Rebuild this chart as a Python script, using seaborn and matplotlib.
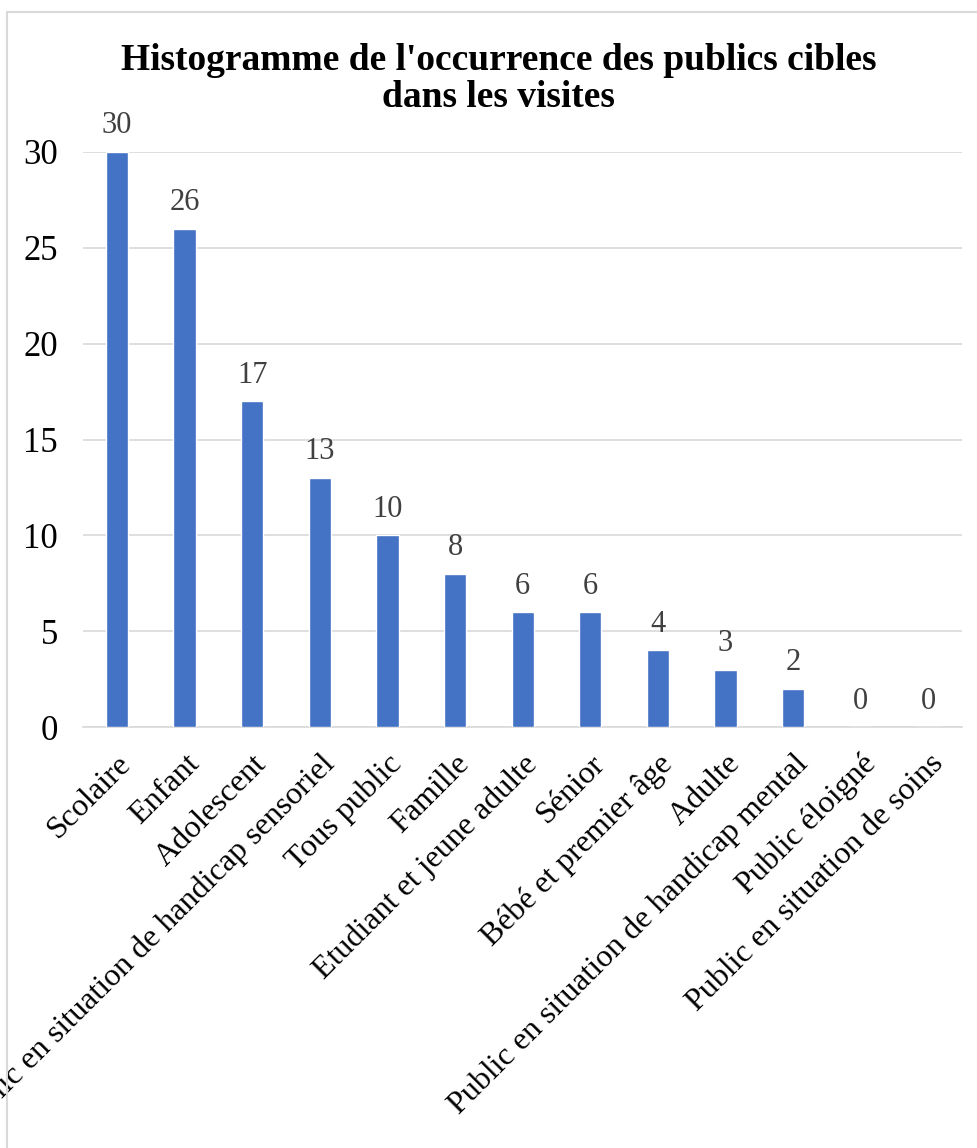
import matplotlib
matplotlib.use("Agg")
import matplotlib.pyplot as plt
import seaborn as sns
import pandas as pd
from matplotlib.patches import Rectangle

categories = ["Scolaire", "Enfant", "Adolescent",
              "Public en situation de handicap sensoriel", "Tous public",
              "Famille", "Etudiant et jeune adulte", "Sénior",
              "Bébé et premier âge", "Adulte",
              "Public en situation de handicap mental", "Public éloigné",
              "Public en situation de soins"]
values = [30, 26, 17, 13, 10, 8, 6, 6, 4, 3, 2, 0, 0]
yticks = [0, 5, 10, 15, 20, 25, 30]
title = "Histogramme de l'occurrence des publics cibles\ndans les visites"

sns.set_theme(style="white")
plt.rcParams["font.family"] = ["Liberation Serif", "DejaVu Serif"]

df = pd.DataFrame({"cat": categories, "val": values})

fig = plt.figure(figsize=(9.77, 11.48), dpi=100)
ax = fig.add_axes([0.085, 0.3667, 0.90, 0.5009])

sns.barplot(data=df, x="cat", y="val", color="#4472C4", width=0.33,
            saturation=1, ax=ax, zorder=3)

ax.set_ylim(0, 30)
ax.set_xlim(-0.5, len(categories) - 0.5)
ax.set_yticks(yticks)
ax.set_yticklabels([str(t) for t in yticks], fontsize=25, color="#000000")
ax.yaxis.grid(True, color="#D9D9D9", linewidth=1.2, zorder=0)
ax.xaxis.grid(False)
for s in ["top", "right", "left"]:
    ax.spines[s].set_visible(False)
ax.spines["bottom"].set_color("#D9D9D9")
ax.spines["bottom"].set_linewidth(1.2)
ax.tick_params(axis="y", length=0, pad=18)
ax.tick_params(axis="x", length=0, pad=16)
ax.set_xlabel("")
ax.set_ylabel("")
ax.set_xticks(range(len(categories)))
ax.set_xticklabels(categories, rotation=45, ha="right",
                   rotation_mode="anchor", fontsize=23, color="#000000")

for i, v in enumerate(values):
    ax.text(i, v + 0.6, str(v), ha="center", va="bottom", fontsize=22,
            color="#404040", clip_on=False)

fig.text(0.51, 0.931, title, ha="center", va="center", fontsize=27,
         fontweight="bold", color="#000000", linespacing=1.08)

fig.patches.append(Rectangle((7 / 977, -0.05), 1.2, 1 - 12 / 1148 + 0.05,
                             transform=fig.transFigure, fill=False,
                             edgecolor="#D9D9D9", linewidth=1.5))

fig.savefig("out.png", dpi=100)
